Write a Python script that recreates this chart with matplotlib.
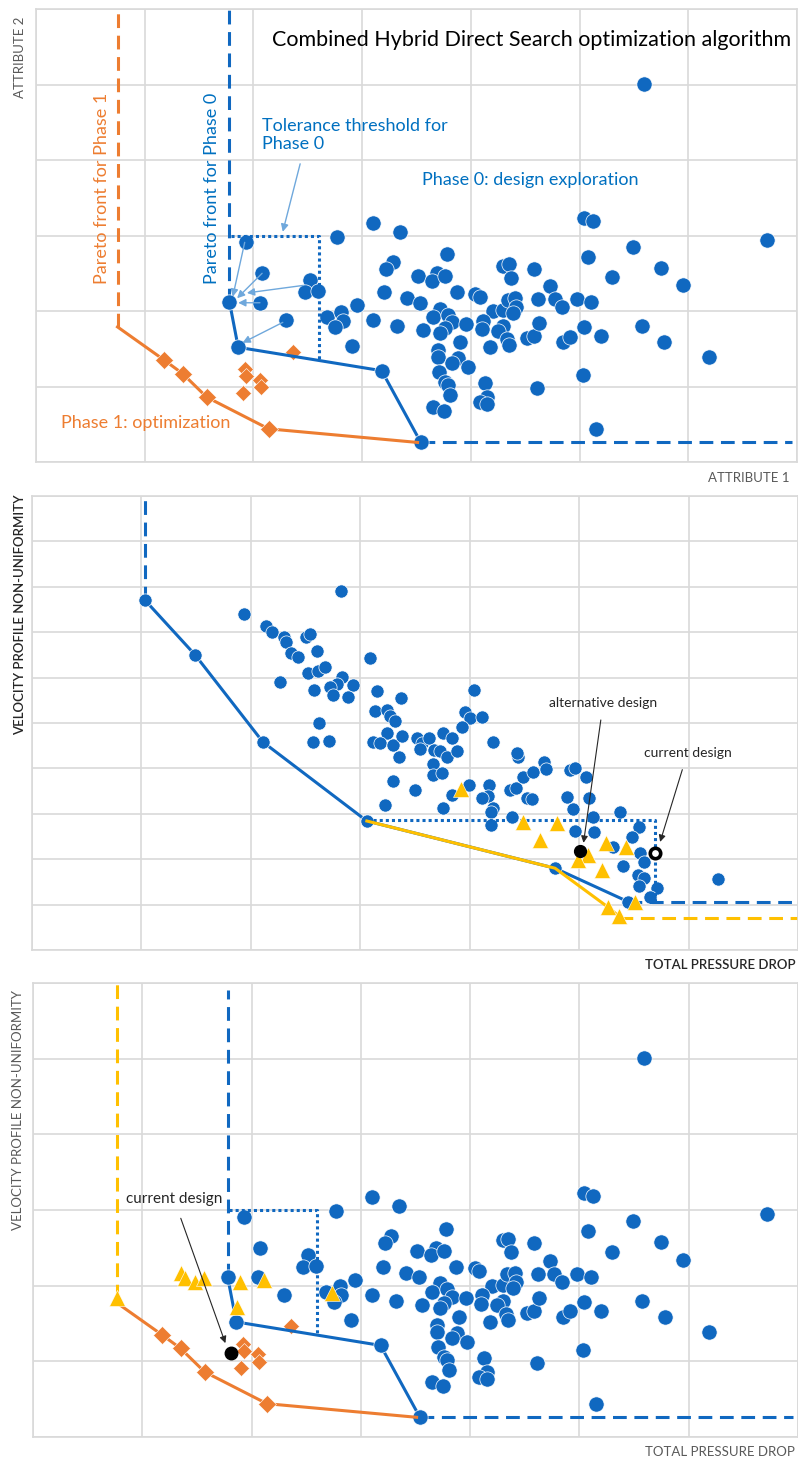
import numpy as np
import matplotlib.pyplot as plt

plt.rcParams['font.family'] = ['Lato', 'DejaVu Sans']

BLUE = '#1068C0'
ORANGE = '#ED7D31'
YELLOW = '#FFC000'
LIGHT = '#6FA8DC'
GRID = '#D9D9D9'
DASH = (0, (4.5, 2.5))
DOT = (0, (1, 1))

# ---- phase 0 exploration designs (top and bottom panels) ----
expl_x = [5.59, 6.72, 3.10, 3.35, 1.93, 2.77, 3.28, 3.22, 2.08, 2.52,
          2.47, 2.59, 3.20, 2.06, 2.95, 2.30, 2.68, 2.81, 2.82, 2.75,
          3.10, 3.32, 2.91, 3.78, 3.51, 3.69, 3.64, 3.76, 3.87, 4.04,
          4.08, 4.30, 4.35, 4.37, 4.58, 4.73, 4.77, 4.84, 4.62, 3.41,
          3.53, 3.72, 3.65, 3.79, 3.83, 3.76, 3.72, 3.96, 4.20, 4.30,
          4.34, 4.41, 4.42, 4.39, 4.11, 4.10, 4.30, 4.25, 3.56, 3.90,
          4.33, 4.35, 4.52, 4.58, 4.63, 4.85, 4.91, 4.18, 3.70, 3.70,
          3.88, 3.83, 3.97, 3.71, 3.76, 3.79, 3.81, 4.13, 4.15, 4.08,
          4.15, 4.61, 3.65, 3.75, 5.04, 5.12, 5.49, 5.08, 5.75, 5.30,
          5.95, 4.98, 5.11, 5.04, 5.20, 5.57, 5.78, 6.19, 5.03, 5.15]
expl_y = [5.01, 2.94, 3.17, 3.05, 2.91, 2.98, 2.65, 2.56, 2.50, 2.41,
          2.25, 2.26, 2.25, 2.11, 2.08, 1.88, 1.92, 1.99, 1.87, 1.79,
          1.88, 1.80, 1.54, 2.75, 2.46, 2.50, 2.40, 2.46, 2.25, 2.23,
          2.19, 2.60, 2.62, 2.44, 2.56, 2.33, 2.16, 2.05, 2.16, 2.17,
          2.11, 2.03, 1.92, 1.95, 1.85, 1.77, 1.71, 1.83, 2.00, 2.01,
          2.15, 2.17, 2.05, 1.97, 1.87, 1.76, 1.80, 1.74, 1.75, 1.59,
          1.63, 1.55, 1.64, 1.67, 1.84, 1.59, 1.66, 1.52, 1.48, 1.39,
          1.38, 1.31, 1.26, 1.19, 1.06, 1.02, 0.89, 1.05, 0.86, 0.79,
          0.77, 0.98, 0.73, 0.68, 3.23, 3.19, 2.85, 2.72, 2.57, 2.45,
          2.34, 2.16, 2.12, 1.79, 1.67, 1.80, 1.59, 1.39, 1.15, 0.44]

front0_x = [1.78, 1.86, 3.18, 3.54]
front0_y = [2.12, 1.52, 1.21, 0.26]
front1_x = [0.75, 1.18, 1.35, 1.57, 2.14, 3.51]
front1_y = [1.79, 1.35, 1.17, 0.86, 0.44, 0.26]
opt_x = [2.36, 1.92, 1.93, 2.06, 2.07, 1.90]
opt_y = [1.46, 1.23, 1.14, 1.09, 0.99, 0.91]
tol0_x = [1.79, 2.60]
tol0_top = 3.0

# arrows from designs towards the phase 0 front (from, to)
moves = [((1.92, 2.91), (1.81, 2.19)),
         ((2.08, 2.50), (1.85, 2.17)),
         ((2.46, 2.34), (1.94, 2.24)),
         ((2.06, 2.11), (1.86, 2.11)),
         ((2.27, 1.85), (1.90, 1.58))]

# ---- middle panel: pressure drop vs velocity non-uniformity ----
sweep_x = [2.82, 1.94, 2.14, 2.19, 2.30, 2.32, 2.50, 2.54, 2.60, 2.37,
           2.43, 3.09, 2.27, 2.52, 2.61, 2.68, 2.83, 2.79, 2.72, 2.75,
           2.93, 2.89, 2.58, 3.15, 2.62, 2.57, 2.71, 3.13, 3.24, 3.27,
           3.32, 3.37, 3.24, 3.12, 3.18, 3.30, 3.35, 3.38, 3.30, 3.23,
           4.04, 3.96, 4.00, 4.11, 3.93, 3.52, 3.56, 3.63, 3.55, 3.67,
           3.73, 3.79, 3.76, 3.84, 3.88, 4.21, 3.66, 3.66, 3.75, 3.50,
           3.84, 3.76, 3.99, 4.18, 4.17, 4.11, 4.21, 4.19, 4.19, 4.37,
           4.42, 4.44, 4.43, 4.49, 4.58, 4.68, 4.70, 4.52, 4.57, 4.39,
           4.89, 4.94, 4.92, 4.96, 5.06, 5.09, 5.13, 4.96, 5.14, 5.37,
           5.55, 5.48, 5.31, 5.56, 5.59, 5.40, 5.54, 5.59, 5.55, 5.71,
           5.65, 6.27]
sweep_y = [7.91, 7.40, 7.14, 7.00, 6.89, 6.78, 6.89, 6.96, 6.59, 6.54,
           6.45, 6.43, 5.90, 6.10, 6.15, 6.23, 6.01, 5.86, 5.79, 5.62,
           5.84, 5.57, 5.73, 5.70, 5.00, 4.58, 4.60, 5.26, 5.29, 5.15,
           5.04, 5.55, 4.78, 4.58, 4.56, 4.52, 4.25, 4.71, 3.72, 3.19,
           5.73, 5.24, 5.11, 5.13, 4.91, 4.67, 4.56, 4.67, 4.43, 4.41,
           4.38, 4.25, 4.78, 4.67, 4.38, 4.58, 4.10, 3.85, 3.90, 3.52,
           3.41, 3.13, 3.63, 3.63, 3.39, 3.35, 3.13, 3.04, 2.75, 3.52,
           3.57, 4.25, 4.34, 3.81, 3.92, 4.14, 3.99, 3.35, 3.33, 2.93,
           3.37, 3.11, 3.96, 4.01, 3.81, 3.35, 2.93, 2.62, 2.60, 3.04,
           2.71, 2.49, 2.27, 2.14, 1.94, 1.85, 1.65, 1.59, 1.41, 1.37,
           1.17, 1.56]
mid_front0_x = [1.03, 1.49, 2.11, 3.06, 4.78, 5.45]
mid_front0_y = [7.71, 6.50, 4.58, 2.84, 1.80, 1.06]
mid_front1_x = [3.06, 4.78, 5.26, 5.36]
mid_front1_y = [2.84, 1.80, 0.95, 0.75]
mid_tri_x = [3.92, 4.49, 4.80, 4.64, 5.25, 5.43, 5.08, 4.99, 5.21, 5.26, 5.36, 5.51]
mid_tri_y = [3.55, 2.82, 2.80, 2.42, 2.36, 2.27, 2.09, 1.98, 1.76, 0.95, 0.75, 1.06]
mid_tol_x = [3.06, 5.69]
mid_tol_y = [2.86, 1.04]
alt_design = (5.01, 2.18)
cur_design_mid = (5.69, 2.14)

# ---- bottom panel extras ----
bot_front2 = (0.77, 1.83)
bot_tri_x = [1.35, 1.39, 1.48, 1.56, 1.89, 2.11, 1.87, 2.74]
bot_tri_y = [2.17, 2.10, 2.05, 2.10, 2.05, 2.07, 1.72, 1.90]
cur_design_bot = (1.81, 1.11)


def setup(ax, nx, ny):
    ax.set_xlim(0, nx)
    ax.set_ylim(0, ny)
    ax.set_xticks(range(nx + 1))
    ax.set_yticks(range(ny + 1))
    ax.grid(True, color=GRID, lw=1.2)
    ax.set_axisbelow(True)
    ax.tick_params(length=0, labelbottom=False, labelleft=False)
    for s in ax.spines.values():
        s.set_color(GRID)
        s.set_linewidth(1.2)


def phase_panel(ax, top_dash0=6.0):
    ax.plot(expl_x, expl_y, 'o', ms=11, color=BLUE, mec='white', mew=0.5, ls='none')
    ax.plot(opt_x, opt_y, 'D', ms=8.5, color=ORANGE, mec='white', mew=0.4, ls='none')
    # phase 0 front
    ax.plot([front0_x[0]] * 2, [front0_y[0], top_dash0], color=BLUE, lw=2.2, ls=DASH)
    ax.plot([front0_x[-1], 6.95], [front0_y[-1]] * 2, color=BLUE, lw=2.2, ls=DASH)
    ax.plot(front0_x, front0_y, '-o', color=BLUE, lw=2.2, ms=11, mec='white', mew=0.5)
    ybot = np.interp(tol0_x[1], front0_x[1:3], front0_y[1:3])
    ax.plot([tol0_x[0], tol0_x[1], tol0_x[1]], [tol0_top, tol0_top, ybot],
            color=BLUE, lw=2.2, ls=DOT)
    # phase 1 front
    ax.plot(front1_x, front1_y, '-', color=ORANGE, lw=2.2)
    ax.plot(front1_x[1:-1], front1_y[1:-1], 'D', ms=9, color=ORANGE, mec='white', mew=0.4)


fig = plt.figure(figsize=(7.98, 14.59), dpi=100)

# ---------------- top panel ----------------
ax1 = fig.add_axes([0.0451, 0.6833, 0.9536, 0.3105])
setup(ax1, 7, 6)
phase_panel(ax1)
ax1.plot([front1_x[0]] * 2, [front1_y[0], 6.0], color=ORANGE, lw=2.2, ls=DASH)
for a, b in moves:
    ax1.annotate('', xy=b, xytext=a,
                 arrowprops=dict(arrowstyle='-|>', color=LIGHT, lw=1, mutation_scale=11,
                                 shrinkA=0, shrinkB=0))
ax1.annotate('', xy=(2.27, 3.05), xytext=(2.43, 3.95),
             arrowprops=dict(arrowstyle='-|>', color=LIGHT, lw=1, mutation_scale=11,
                             shrinkA=0, shrinkB=0))
ax1.text(2.17, 5.59, 'Combined Hybrid Direct Search optimization algorithm',
         fontsize=15.5, color='black', ha='left', va='center')
ax1.text(2.08, 4.33, 'Tolerance threshold for\nPhase 0', fontsize=13, color='#0070C0',
         ha='left', va='center', linespacing=1.15)
ax1.text(3.55, 3.74, 'Phase 0: design exploration', fontsize=13, color='#0070C0',
         ha='left', va='center')
ax1.text(0.61, 3.63, 'Pareto front for Phase 1', fontsize=13, color=ORANGE,
         rotation=90, ha='center', va='center')
ax1.text(1.62, 3.63, 'Pareto front for Phase 0', fontsize=13, color='#0070C0',
         rotation=90, ha='center', va='center')
ax1.text(0.23, 0.52, 'Phase 1: optimization', fontsize=13, color=ORANGE,
         ha='left', va='center')

fig.text(0.0251, 0.9609, 'ATTRIBUTE 2', rotation=90, ha='center', va='center',
         fontsize=9.5, color='#595959')
fig.text(0.9386, 0.6724, 'ATTRIBUTE 1', ha='center', va='center',
         fontsize=9.5, color='#595959')

# ---------------- middle panel ----------------
ax2 = fig.add_axes([0.0401, 0.3489, 0.9599, 0.3112])
setup(ax2, 7, 10)
ax2.plot(sweep_x, sweep_y, 'o', ms=9.5, color=BLUE, mec='white', mew=0.5, ls='none')
ax2.plot([mid_front0_x[0]] * 2, [mid_front0_y[0], 10], color=BLUE, lw=2.2, ls=DASH)
ax2.plot([mid_front0_x[-1], 7], [mid_front0_y[-1]] * 2, color=BLUE, lw=2.2, ls=DASH)
ax2.plot(mid_front0_x, mid_front0_y, '-o', color=BLUE, lw=2.2, ms=9.5, mec='white', mew=0.5)
ax2.plot([mid_tol_x[0], mid_tol_x[1], mid_tol_x[1]],
         [mid_tol_y[0], mid_tol_y[0], mid_tol_y[1]], color=BLUE, lw=2.2, ls=DOT)
ax2.plot([mid_front1_x[-1], 7], [mid_front1_y[-1] - 0.04] * 2, color=YELLOW, lw=2.2, ls=DASH)
ax2.plot(mid_front1_x, mid_front1_y, '-', color=YELLOW, lw=2.2)
ax2.plot(mid_tri_x, mid_tri_y, '^', ms=11, color=YELLOW, mec='white', mew=0.4, ls='none')
ax2.plot(*alt_design, 'o', ms=8.5, color='black')
ax2.plot(*cur_design_mid, 'o', ms=7.5, mfc='white', mec='black', mew=2.6)
ax2.annotate('alternative design', xy=(5.04, 2.36), xytext=(5.22, 5.44),
             fontsize=10, color='#262626', ha='center', va='center',
             arrowprops=dict(arrowstyle='-|>', color='#262626', lw=0.8, mutation_scale=10,
                             shrinkA=6, shrinkB=0))
ax2.annotate('current design', xy=(5.74, 2.38), xytext=(5.99, 4.34),
             fontsize=10, color='#262626', ha='center', va='center',
             arrowprops=dict(arrowstyle='-|>', color='#262626', lw=0.8, mutation_scale=10,
                             shrinkA=6, shrinkB=0))

fig.text(0.0251, 0.5785, 'VELOCITY PROFILE NON-UNIFORMITY', rotation=90, ha='center',
         va='center', fontsize=9.5, color='#262626', fontweight='semibold')
fig.text(0.9023, 0.3386, 'TOTAL PRESSURE DROP', ha='center', va='center',
         fontsize=9.5, color='#262626', fontweight='semibold')

# ---------------- bottom panel ----------------
ax3 = fig.add_axes([0.0414, 0.0151, 0.9586, 0.3112])
setup(ax3, 7, 6)
phase_panel(ax3, top_dash0=5.9)
ax3.plot([bot_front2[0]] * 2, [bot_front2[1], 6.0], color=YELLOW, lw=2.2, ls=DASH)
ax3.plot(*bot_front2, '^', ms=11, color=YELLOW, mec='white', mew=0.4)
ax3.plot(bot_tri_x, bot_tri_y, '^', ms=11, color=YELLOW, mec='white', mew=0.4, ls='none')
ax3.plot(*cur_design_bot, 'o', ms=9, color='black')
ax3.annotate('current design', xy=(1.76, 1.24), xytext=(1.29, 3.14),
             fontsize=11, color='#262626', ha='center', va='center',
             arrowprops=dict(arrowstyle='-|>', color='#262626', lw=0.8, mutation_scale=10,
                             shrinkA=7, shrinkB=0))

fig.text(0.0226, 0.2392, 'VELOCITY PROFILE NON-UNIFORMITY', rotation=90, ha='center',
         va='center', fontsize=9.5, color='#595959')
fig.text(0.8083, 0.0048, 'TOTAL PRESSURE DROP', ha='left', va='center',
         fontsize=9.5, color='#595959')

fig.savefig('out.png', dpi=100)
